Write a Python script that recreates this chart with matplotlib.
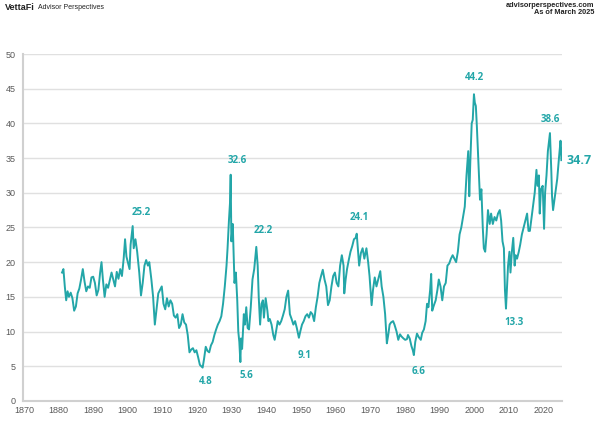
import matplotlib
matplotlib.use("Agg")
import matplotlib.pyplot as plt

# Shiller CAPE (P/E10)
years = [
	1881.0, 1881.4, 1881.8, 1882.2, 1882.6, 1883.0, 1883.5, 1884.0, 1884.5, 1885.0,
	1885.5, 1886.0, 1886.5, 1887.0, 1887.5, 1888.0, 1888.5, 1889.0, 1889.5, 1890.0,
	1890.5, 1891.0, 1891.5, 1892.0, 1892.4, 1892.8, 1893.3, 1893.8, 1894.3, 1894.8,
	1895.3, 1895.8, 1896.3, 1896.8, 1897.3, 1897.8, 1898.3, 1898.8, 1899.2, 1899.6,
	1900.0, 1900.5, 1900.8, 1901.4, 1901.7, 1902.2, 1902.7, 1903.3, 1903.8, 1904.3,
	1904.8, 1905.3, 1905.8, 1906.2, 1906.8, 1907.3, 1907.8, 1908.3, 1908.8, 1909.3,
	1909.8, 1910.3, 1910.8, 1911.3, 1911.8, 1912.3, 1912.8, 1913.3, 1913.8, 1914.3,
	1914.8, 1915.3, 1915.8, 1916.3, 1916.8, 1917.3, 1917.8, 1918.3, 1918.8, 1919.3,
	1919.8, 1920.3, 1920.8, 1921.2, 1921.6, 1922.0, 1922.5, 1923.0, 1923.5, 1924.0,
	1924.5, 1925.0, 1925.5, 1926.0, 1926.5, 1927.0, 1927.5, 1928.0, 1928.5, 1928.8,
	1929.2, 1929.5, 1929.7, 1929.9, 1930.3, 1930.8, 1931.2, 1931.6, 1931.9, 1932.2,
	1932.5, 1932.7, 1933.0, 1933.5, 1933.8, 1934.2, 1934.6, 1935.0, 1935.5, 1936.0,
	1936.5, 1937.1, 1937.5, 1937.8, 1938.2, 1938.6, 1939.0, 1939.3, 1939.8, 1940.3,
	1940.6, 1941.0, 1941.5, 1942.0, 1942.4, 1942.8, 1943.3, 1943.8, 1944.3, 1944.8,
	1945.3, 1945.8, 1946.3, 1946.8, 1947.3, 1947.8, 1948.3, 1948.8, 1949.4, 1949.8,
	1950.3, 1950.8, 1951.3, 1951.8, 1952.3, 1952.8, 1953.3, 1953.8, 1954.3, 1954.8,
	1955.3, 1955.8, 1956.3, 1956.8, 1957.3, 1957.8, 1958.3, 1958.8, 1959.3, 1959.8,
	1960.3, 1960.8, 1961.3, 1961.8, 1962.3, 1962.5, 1962.9, 1963.3, 1963.8, 1964.3,
	1964.8, 1965.3, 1965.8, 1966.1, 1966.5, 1966.8, 1967.3, 1967.8, 1968.3, 1968.9,
	1969.4, 1969.8, 1970.4, 1970.8, 1971.3, 1971.8, 1972.3, 1972.9, 1973.3, 1973.8,
	1974.3, 1974.8, 1975.2, 1975.6, 1976.0, 1976.6, 1977.0, 1977.6, 1978.1, 1978.6,
	1979.0, 1979.6, 1980.1, 1980.6, 1980.9, 1981.4, 1981.9, 1982.3, 1982.6, 1983.0,
	1983.5, 1984.0, 1984.6, 1985.0, 1985.5, 1986.0, 1986.4, 1986.8, 1987.3, 1987.6,
	1987.9, 1988.4, 1988.9, 1989.4, 1989.8, 1990.3, 1990.8, 1991.3, 1991.8, 1992.3,
	1992.8, 1993.3, 1993.8, 1994.3, 1994.8, 1995.3, 1995.8, 1996.3, 1996.8, 1997.3,
	1997.8, 1998.3, 1998.6, 1998.9, 1999.3, 1999.6, 1999.95, 2000.2, 2000.5, 2000.8,
	2001.1, 2001.4, 2001.7, 2002.1, 2002.5, 2002.8, 2003.2, 2003.6, 2004.0, 2004.5,
	2004.9, 2005.4, 2005.9, 2006.4, 2006.9, 2007.4, 2007.8, 2008.2, 2008.6, 2008.9,
	2009.2, 2009.5, 2009.8, 2010.2, 2010.5, 2010.9, 2011.3, 2011.7, 2012.0, 2012.4,
	2012.9, 2013.3, 2013.8, 2014.3, 2014.8, 2015.3, 2015.7, 2016.1, 2016.6, 2017.0,
	2017.5, 2018.0, 2018.3, 2018.7, 2018.95, 2019.3, 2019.8, 2020.2, 2020.5, 2020.9,
	2021.3, 2021.9, 2022.3, 2022.5, 2022.8, 2023.2, 2023.6, 2024.0, 2024.5, 2024.95,
	2025.1, 2025.2]
cape = [
	18.5, 19.0, 16.5, 14.5, 15.8, 15.0, 15.6, 14.8, 13.0, 13.6,
	15.5, 16.2, 17.5, 19.0, 17.2, 15.8, 16.5, 16.3, 17.8, 17.9,
	17.0, 15.2, 16.0, 18.5, 20.0, 17.5, 15.0, 16.8, 16.3, 17.4,
	18.5, 17.5, 16.5, 18.6, 17.6, 19.0, 18.0, 20.5, 23.3, 20.8,
	20.0, 19.0, 22.5, 25.2, 22.0, 23.3, 21.5, 18.5, 15.2, 17.0,
	19.5, 20.3, 19.5, 20.0, 17.5, 15.0, 11.0, 13.2, 15.5, 16.0,
	16.5, 14.0, 13.2, 14.8, 13.6, 14.5, 14.0, 12.3, 12.0, 12.5,
	10.5, 11.0, 12.5, 11.3, 11.0, 9.5, 7.0, 7.4, 7.6, 7.0,
	7.3, 6.3, 5.2, 5.0, 4.8, 6.0, 7.8, 7.2, 7.0, 8.0,
	8.5, 9.5, 10.3, 11.0, 11.5, 12.2, 14.0, 16.5, 19.5, 22.0,
	26.0, 28.5, 32.6, 23.0, 25.5, 17.0, 18.5, 14.5, 10.0, 8.5,
	5.6, 9.0, 7.5, 12.5, 11.0, 13.5, 10.5, 10.3, 13.5, 17.5,
	19.0, 22.2, 19.5, 15.0, 11.0, 14.0, 14.5, 12.0, 14.8, 13.0,
	11.5, 11.8, 11.0, 9.5, 8.8, 10.0, 11.5, 11.0, 11.5, 12.3,
	13.2, 15.0, 15.9, 12.5, 11.8, 11.0, 11.5, 10.5, 9.1, 10.0,
	11.0, 11.5, 12.2, 12.5, 12.0, 12.8, 12.5, 11.5, 13.5, 15.0,
	17.0, 18.0, 18.9, 17.5, 16.5, 13.8, 14.5, 16.5, 18.0, 18.5,
	17.0, 16.5, 19.5, 21.0, 19.5, 15.5, 17.5, 19.0, 20.3, 21.5,
	22.3, 23.3, 23.5, 24.1, 21.5, 19.5, 21.3, 22.0, 20.5, 22.0,
	20.0, 18.0, 13.8, 16.0, 17.8, 16.5, 17.5, 18.7, 16.5, 15.0,
	12.5, 8.3, 9.5, 11.0, 11.3, 11.5, 11.0, 10.0, 8.8, 9.6,
	9.3, 9.0, 8.8, 8.9, 9.5, 9.0, 7.9, 7.3, 6.6, 8.5,
	9.7, 9.2, 8.8, 9.8, 10.3, 11.5, 14.0, 13.5, 16.0, 18.3,
	13.0, 13.8, 14.5, 16.0, 17.5, 16.5, 14.5, 16.5, 17.0, 19.5,
	19.8, 20.5, 21.0, 20.5, 20.0, 21.5, 24.0, 25.0, 26.5, 28.0,
	32.5, 36.0, 29.5, 34.5, 40.0, 40.5, 44.2, 43.0, 42.5, 39.5,
	36.0, 32.5, 29.0, 30.5, 25.0, 22.0, 21.5, 24.0, 27.5, 25.5,
	27.0, 25.5, 26.5, 26.0, 27.0, 27.5, 26.0, 23.0, 22.0, 16.0,
	13.3, 16.5, 19.5, 21.5, 18.5, 21.5, 23.5, 19.5, 21.0, 20.5,
	21.5, 22.5, 24.0, 25.0, 26.0, 27.0, 24.5, 24.5, 26.5, 28.0,
	30.0, 33.3, 31.0, 32.5, 27.0, 30.5, 31.0, 24.8, 30.0, 32.5,
	36.0, 38.6, 33.0, 29.5, 27.5, 29.0, 30.5, 32.0, 35.0, 37.5,
	36.5, 34.7]

# labelled highs and lows: (year, value, offset in points, alignment)
peakYears = [1901.4, 1929.7, 1937.1, 1966.1, 1999.95, 2021.9]
peakVals = [25.2, 32.6, 22.2, 24.1, 44.2, 38.6]
peakOffsets = [(6, 6), (4.5, 6.5), (5, 8), (2, 8), (0.5, 8), (0, 6)]
lowYears = [1921.6, 1932.5, 1949.4, 1982.6, 2009.2]
lowVals = [4.8, 5.6, 9.1, 6.6, 13.3]
lowOffsets = [(2, -6), (4.5, -6), (4, -9), (3.5, -8), (6, -6)]

teal = "#23a6a8"
grey = "#595959"

fig = plt.figure(figsize=(5.96, 4.32), dpi=100)
ax = fig.add_axes([0.039, 0.072, 0.9035, 0.803])

ax.plot(years, cape, color=teal, linewidth=1.4)

ax.set_xlim(1869.8, 2025.3)
ax.set_ylim(0, 50)
ax.set_xticks(range(1870, 2030, 10))
ax.set_yticks(range(0, 55, 5))
ax.tick_params(length=0, labelsize=6.5, labelcolor=grey)
ax.tick_params(axis="y", pad=5.5)
ax.tick_params(axis="x", pad=4)
for lbl in ax.get_xticklabels() + ax.get_yticklabels():
	lbl.set_fontfamily("Liberation Sans")

ax.grid(axis="y", color="#e0e0e0", linewidth=1)
ax.set_axisbelow(True)
for s in ["top", "right"]:
	ax.spines[s].set_visible(False)
for s in ["left", "bottom"]:
	ax.spines[s].set_color("#d0d0d0")
	ax.spines[s].set_linewidth(1.5)

for i in range(len(peakYears)):
	ax.annotate("%.1f" % peakVals[i], (peakYears[i], peakVals[i]),
		xytext=peakOffsets[i], textcoords="offset points",
		ha="center", va="bottom", fontsize=7, fontweight="bold",
		color=teal, family="Open Sans")
for i in range(len(lowYears)):
	ax.annotate("%.1f" % lowVals[i], (lowYears[i], lowVals[i]),
		xytext=lowOffsets[i], textcoords="offset points",
		ha="center", va="top", fontsize=7, fontweight="bold",
		color=teal, family="Open Sans")

# latest value
ax.annotate("%.1f" % cape[-1], (years[-1], cape[-1]),
	xytext=(4, 0), textcoords="offset points", ha="left", va="center",
	fontsize=9, fontweight="bold", color=teal, family="Open Sans",
	annotation_clip=False)

# header
fig.text(0.008, 0.982, "VettaFi", fontsize=6.5, fontweight="bold",
	family="Liberation Sans", va="center", color="#222222")
fig.text(0.064, 0.982, "Advisor Perspectives", fontsize=5,
	family="Liberation Sans", va="center", color="#222222")
fig.text(0.997, 0.988, "advisorperspectives.com", fontsize=5.3, fontweight="bold",
	family="Liberation Sans", ha="right", va="center", color="#222222")
fig.text(0.997, 0.970, "As of March 2025", fontsize=5.3, fontweight="bold",
	family="Liberation Sans", ha="right", va="center", color="#222222")

plt.savefig("out.png", dpi=100)
